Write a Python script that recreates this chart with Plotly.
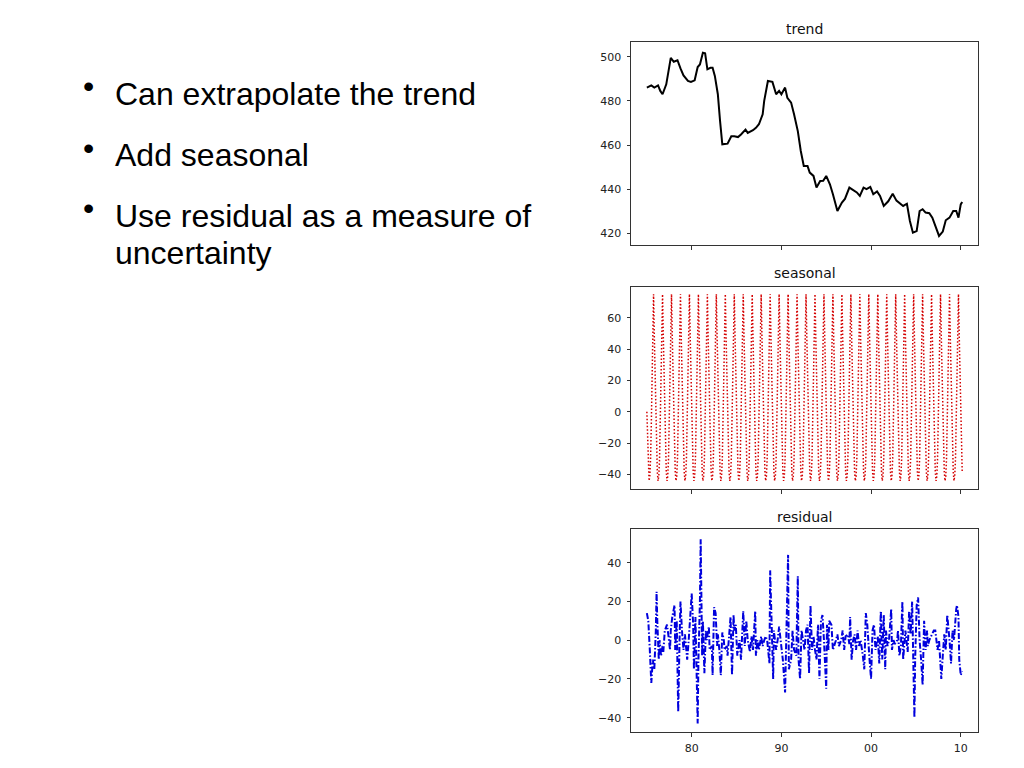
import plotly.graph_objects as go

# ---------------- data ----------------
# months counted from Jan 1975
trend_month = [0, 6, 10, 15, 18, 21, 26, 29, 32, 36, 39, 41, 45, 49, 55, 59, 64, 68, 71, 75,
               78, 81, 85, 88, 91, 95, 98, 101, 108, 113, 117, 122, 126, 132, 135, 142, 146, 150,
               155, 157, 162, 168, 173, 177, 180, 185, 188, 193, 197, 202, 206, 210, 215, 218,
               223, 227, 232, 236, 240, 245, 249, 255, 261, 265, 271, 276, 281, 285, 290, 294,
               299, 303, 308, 312, 317, 323, 329, 334, 339, 343, 348, 352, 356, 361, 365, 369,
               373, 378, 382, 387, 391, 396, 400, 405, 410, 414, 417, 420, 422]
trend_value = [486, 487, 486, 487, 484.5, 483, 487.5, 493.5, 499.5, 497.7, 498, 498.4, 494.7,
               491.5, 489, 488.6, 489.3, 495.3, 496.5, 501.8, 501.5, 494.3, 495, 495, 491.3, 483,
               470.9, 460.3, 460.6, 464, 464, 463.6, 464.8, 467, 465.5, 466.7, 467.8, 469.4,
               473.9, 480, 489, 488.6, 483, 484.5, 483, 486, 481.4, 479.2, 473.9, 466.3, 457.3,
               450.5, 450.5, 447.5, 446, 440.7, 443.7, 443.8, 446, 442.2, 437.7, 430.1, 433.9,
               435.6, 440.7, 439.5, 438.5, 436.9, 440.7, 440, 441, 437.7, 439, 436.9, 432.4,
               434.5, 437.9, 434.8, 433.4, 432.4, 433.4, 425.6, 420.3, 421, 430.1, 430.9, 429.4,
               429.1, 427.1, 422.5, 418.8, 420.8, 425.9, 427.1, 430.1, 430.1, 427.1, 433.1, 434.2]

# one seasonal cycle (Jan..Dec), repeated every year
seasonal_cycle = [0, -22, -38, -44, -41, -30, -8, 22, 52, 75, 48, 22]
n_months = 423

resid_month = [0, 2, 4, 6, 8, 10, 12, 13, 14, 16, 17, 19, 21, 22, 24, 27, 29, 31, 32, 34, 37, 38,
               40, 42, 44, 45, 47, 49, 51, 54, 56, 58, 60, 62, 63, 65, 66, 68, 69, 71, 72, 74, 75,
               77, 79, 80, 83, 84, 87, 88, 90, 92, 94, 95, 97, 99, 101, 103, 104, 107, 108, 110,
               112, 114, 116, 117, 119, 121, 124, 126, 128, 129, 131, 133, 135, 137, 138, 140,
               142, 145, 146, 148, 150, 153, 155, 157, 159, 161, 164, 165, 167, 169, 170, 173,
               175, 177, 179, 182, 185, 187, 189, 190, 193, 195, 197, 200, 202, 203, 205, 207,
               209, 211, 213, 215, 217, 219, 221, 223, 225, 227, 229, 231, 233, 235, 237, 240,
               241, 243, 244, 247, 249, 251, 253, 255, 257, 260, 262, 264, 266, 269, 271, 272,
               274, 276, 278, 280, 282, 284, 286, 289, 291, 293, 295, 298, 300, 302, 304, 306,
               309, 311, 313, 315, 317, 319, 320, 322, 324, 327, 328, 330, 332, 335, 336, 338,
               340, 342, 343, 346, 347, 349, 351, 353, 355, 356, 358, 359, 361, 363, 365, 367,
               369, 371, 373, 375, 376, 378, 381, 384, 386, 389, 391, 394, 396, 398, 400, 402,
               405, 407, 409, 411, 414, 415, 417, 418, 420, 422]
resid_value = [14, 10, -5, -22, -10, -15, 5, 25, 10, -10, 0, -8, -3, -6, 5, 8, 2, -5, 5, 12, 18, -5,
               10, -37, 5, 20, 5, -5, 3, -10, 0, 10, 24, 8, -15, 12, -5, -43, -10, 20, 52, -8, 10,
               -17, 5, 0, 7, -5, -3, -18, 17, 14, -3, 3, -5, -18, 4, 0, -5, -3, -8, 5,
               12, -18, 13, 5, 8, -8, 0, -10, 5, 15, -3, 10, 0, -5, -6, 2,
               -5, 15, -8, 0, -5, 2, -3, 0, 2, 0, -12, 36, 10, -20, 5, -5,
               0, 7, 0, -10, -27, 10, 44, -15, -10, 5, -5, -8, 33, -10, -20, 5,
               0, -5, 5, 8, -17, 18, -5, 2, -5, -10, 8, -20, 10, 13, 0, -25,
               8, -5, 10, 8, -5, -3, 0, 3, -3, 0, 5, -5, 2, 3, -2, 12,
               -10, 0, 3, -5, 5, -3, 0, -8, -15, 14, 8, -10, -20, 5, 8, -5,
               2, -12, 15, -10, 13, -15, 5, -3, 0, 16, -5, 0, -2, 0, 5, -8,
               -3, 20, -10, 5, 0, -6, 15, 3, 20, -5, -40, -10, 18, 22, 0, -10,
               -23, 10, -5, 5, -3, 0, 3, 5, 5, -5, 0, -20, -8, 3, -5, 13,
               0, -12, 5, 0, 16, 18, 12, -10, -18, -16]

tick_dates = ["1980-01-01", "1990-01-01", "2000-01-01", "2010-01-01"]
tick_labels = ["80", "90", "00", "10"]
panel_titles = ["trend", "seasonal", "residual"]
bullets = ["Can extrapolate the trend", "Add seasonal", "Use residual as a measure of", "uncertainty"]


def month_to_date(m):
    return f"{1975 + m // 12}-{m % 12 + 1:02d}-01"


seasonal_month = list(range(n_months))
seasonal_value = [seasonal_cycle[m % 12] for m in seasonal_month]

W, H = 1024, 768
OFF = 8  # page body margin


def px(x):
    return (x - OFF) / W


def py(y):
    return 1 - (y - OFF) / H


fig = go.Figure()
fig.add_trace(go.Scatter(x=[month_to_date(m) for m in trend_month], y=trend_value,
                         mode="lines", line=dict(color="black", width=2),
                         xaxis="x", yaxis="y", showlegend=False))
fig.add_trace(go.Scatter(x=[month_to_date(m) for m in seasonal_month], y=seasonal_value,
                         mode="lines", line=dict(color="#d40000", width=1.5, dash="1.5px,2px"),
                         xaxis="x2", yaxis="y2", showlegend=False))
fig.add_trace(go.Scatter(x=[month_to_date(m) for m in resid_month], y=resid_value,
                         mode="lines", line=dict(color="#0000dd", width=2, dash="6px,2px,1.5px,2px"),
                         xaxis="x3", yaxis="y3", showlegend=False))

x_left, x_right = 631, 978
panels = [(41.7, 245.0), (286.5, 489.3), (529.3, 732.3)]
y_ranges = [[414.7, 506.8], [-49.4, 79.9], [-47.5, 57.2]]
y_ticks = [[420, 440, 460, 480, 500], [-40, -20, 0, 20, 40, 60], [-40, -20, 0, 20, 40]]
x_range = ["1973-03-26", "2011-12-05"]

tick_font = dict(family="DejaVu Sans", size=11, color="#222222")
common_axis = dict(showline=True, linecolor="#333333", linewidth=1, mirror=True,
                   ticks="outside", ticklen=3.5, tickwidth=1, tickcolor="#333333",
                   showgrid=False, zeroline=False, tickfont=tick_font)

layout = dict(width=W, height=H, margin=dict(l=0, r=0, t=0, b=0),
              paper_bgcolor="white", plot_bgcolor="white", showlegend=False)

for i, ((top, bot), yr, yt) in enumerate(zip(panels, y_ranges, y_ticks)):
    sfx = "" if i == 0 else str(i + 1)
    layout["xaxis" + sfx] = dict(common_axis, domain=[px(x_left), px(x_right)],
                                 anchor="y" + sfx, type="date", range=x_range,
                                 tickvals=tick_dates, ticktext=tick_labels,
                                 showticklabels=(i == 2), ticklabelstandoff=2)
    layout["yaxis" + sfx] = dict(common_axis, domain=[py(bot), py(top)],
                                 anchor="x" + sfx, range=yr, tickvals=yt,
                                 ticklabelstandoff=3)

annotations = []
title_y = [29, 273, 517]
for t, ty in zip(panel_titles, title_y):
    annotations.append(dict(text=t, x=px((x_left + x_right) / 2), y=py(ty), xref="paper", yref="paper",
                            xanchor="center", yanchor="middle", showarrow=False,
                            font=dict(family="DejaVu Sans", size=14, color="#111111")))

bullet_y = [86, 148, 208]
for by in bullet_y:
    annotations.append(dict(text="•", x=px(88), y=py(by), xref="paper", yref="paper",
                            xanchor="center", yanchor="middle", showarrow=False,
                            font=dict(family="Liberation Sans", size=32, color="black")))

text_y = [94, 155, 216, 253]
for txt, ty in zip(bullets, text_y):
    annotations.append(dict(text=txt, x=px(113), y=py(ty), xref="paper", yref="paper",
                            xanchor="left", yanchor="middle", showarrow=False,
                            font=dict(family="Liberation Sans", size=32, color="black")))

layout["annotations"] = annotations
fig.update_layout(**layout)
fig.write_html("out.html")
